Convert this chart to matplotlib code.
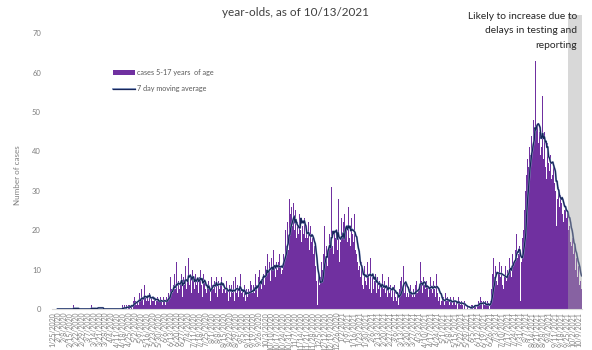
import numpy as np
import pandas as pd
import matplotlib
matplotlib.use("Agg")
import matplotlib.pyplot as plt
import matplotlib.patheffects as pe

# Daily confirmed cases among 5-17 year-olds, starting 1/25/2020 (one row per week)
start_date = "2020-01-25"
daily_cases = [
    0, 0, 0, 0, 0, 0, 0,
    0, 0, 0, 0, 0, 0, 0,
    0, 0, 0, 0, 0, 0, 0,
    0, 0, 0, 0, 1, 0, 0,
    0, 0, 0, 0, 0, 0, 0,
    0, 0, 0, 0, 0, 0, 0,
    0, 0, 0, 0, 1, 0, 0,
    0, 0, 0, 0, 0, 2, 0,
    0, 0, 0, 0, 0, 0, 0,
    0, 0, 0, 0, 0, 0, 0,
    0, 0, 0, 0, 0, 0, 0,
    0, 0, 0, 0, 0, 0, 1,
    0, 1, 0, 0, 1, 0, 1,
    1, 0, 2, 1, 0, 2, 3,
    2, 1, 3, 2, 1, 4, 2,
    5, 2, 3, 1, 6, 3, 2,
    3, 5, 2, 4, 1, 3, 2,
    4, 2, 3, 1, 2, 3, 2,
    1, 2, 3, 2, 1, 3, 2,
    2, 1, 3, 2, 4, 5, 3,
    8, 5, 4, 6, 9, 3, 5,
    12, 4, 7, 5, 8, 6, 9,
    3, 8, 6, 11, 9, 5, 7,
    13, 6, 9, 8, 4, 10, 7,
    5, 9, 6, 11, 7, 4, 8,
    10, 6, 8, 3, 9, 7, 5,
    4, 6, 3, 7, 5, 2, 8,
    6, 9, 5, 7, 4, 8, 3,
    7, 10, 5, 6, 8, 4, 5,
    3, 6, 4, 7, 5, 2, 6,
    5, 3, 6, 4, 7, 2, 5,
    8, 4, 6, 3, 5, 9, 2,
    4, 5, 3, 6, 2, 4, 5,
    3, 5, 4, 7, 2, 6, 4,
    6, 4, 9, 5, 7, 3, 8,
    10, 7, 5, 12, 8, 9, 6,
    11, 9, 14, 8, 10, 12, 7,
    13, 10, 9, 15, 11, 8, 12,
    10, 12, 8, 14, 11, 9, 10,
    14, 18, 12, 20, 16, 22, 15,
    28, 19, 24, 26, 21, 27, 20,
    16, 25, 18, 22, 19, 24, 20,
    33, 17, 21, 19, 23, 18, 16,
    20, 18, 22, 15, 21, 17, 19,
    18, 14, 16, 11, 7, 5, 1,
    9, 6, 8, 12, 7, 10, 14,
    21, 13, 16, 11, 18, 15, 19,
    17, 31, 16, 22, 14, 19, 18,
    20, 15, 28, 14, 12, 17, 23,
    19, 22, 18, 24, 20, 21, 17,
    26, 18, 21, 16, 23, 19, 17,
    24, 16, 15, 14, 12, 10, 11,
    8, 9, 12, 6, 5, 11, 7,
    10, 6, 12, 9, 5, 13, 4,
    11, 8, 5, 7, 9, 4, 6,
    8, 5, 7, 3, 6, 9, 4,
    5, 7, 4, 6, 3, 5, 8,
    4, 6, 3, 5, 7, 2, 6,
    3, 2, 4, 1, 3, 5, 7,
    8, 5, 11, 6, 4, 7, 3,
    4, 3, 5, 2, 6, 4, 3,
    5, 3, 4, 6, 7, 4, 5,
    6, 12, 5, 7, 4, 8, 6,
    5, 4, 7, 6, 3, 5, 8,
    5, 6, 4, 7, 5, 3, 9,
    6, 4, 2, 3, 1, 2, 3,
    2, 3, 1, 4, 2, 3, 1,
    2, 1, 3, 2, 1, 3, 2,
    2, 1, 2, 0, 3, 1, 2,
    1, 2, 1, 0, 2, 1, 0,
    0, 1, 0, 0, 1, 0, 1,
    1, 0, 1, 2, 1, 0, 1,
    2, 1, 3, 1, 2, 0, 2,
    1, 2, 0, 1, 2, 1, 0,
    2, 5, 7, 9, 13, 8, 11,
    7, 10, 6, 9, 12, 8, 11,
    6, 9, 5, 8, 11, 7, 10,
    12, 9, 13, 10, 8, 14, 11,
    17, 12, 15, 19, 13, 14, 16,
    16, 2, 12, 18, 20, 25, 27,
    30, 34, 38, 36, 41, 44, 39,
    44, 41, 48, 43, 63, 40, 46,
    47, 42, 45, 39, 44, 41, 54,
    38, 45, 36, 40, 33, 42, 37,
    35, 39, 33, 41, 34, 36, 32,
    30, 21, 33, 28, 31, 26, 29,
    27, 24, 29, 22, 25, 26, 23,
    25, 22, 20, 21, 17, 16, 18,
    14, 12, 17, 10, 13, 8, 11,
    9, 6, 7, 5,
]
# Most recent days, still subject to reporting delay
delay_start_date = "2021-09-26"

series_label = "cases 5-17 years  of age"
ma_label = "7 day moving average"
title_text = "year-olds, as of 10/13/2021"
note_text = "Likely to increase due to\ndelays in testing and\nreporting"
y_ticks = [0, 10, 20, 30, 40, 50, 60, 70]

plt.rcParams["font.family"] = ["Lato", "DejaVu Sans"]

dates = pd.date_range(start_date, periods=len(daily_cases), freq="D")
x = np.arange(len(daily_cases))
moving_avg = pd.Series(daily_cases, dtype=float).rolling(7).mean()
delay_idx = int((pd.Timestamp(delay_start_date) - dates[0]).days)

fig = plt.figure(figsize=(5.92, 3.5), dpi=100)
ax = fig.add_axes([52 / 592, 1 - 309 / 350, 530 / 592, 294 / 350])

bars = ax.bar(x, daily_cases, width=1.0, color="#7030A0", linewidth=0,
              label=series_label, zorder=2)
line, = ax.plot(x, moving_avg, color="#17265A", lw=0.9, label=ma_label, zorder=3,
                path_effects=[pe.Stroke(linewidth=1.4, foreground="#8FA2C8"),
                              pe.Normal()])

ax.axvspan(delay_idx - 0.5, len(daily_cases) - 0.5, color="#A6A6A6",
           alpha=0.43, lw=0, zorder=4)

ax.set_xlim(-0.5, len(daily_cases) - 0.5)
ax.set_ylim(0, 74.6)
ax.set_yticks(y_ticks)
ax.set_yticklabels([str(v) for v in y_ticks])

tick_pos = x[::7]
ax.set_xticks(tick_pos)
ax.set_xticklabels([f"{d.month}/{d.day}/{d.year}" for d in dates[::7]])
ax.tick_params(axis="x", labelrotation=90, labelsize=5.0, colors="#808080",
               length=0, pad=2)
ax.tick_params(axis="y", labelsize=5.5, colors="#7F7F7F", length=0, pad=8)

for side in ("top", "right", "left"):
    ax.spines[side].set_visible(False)
ax.spines["bottom"].set_color("#D9D9D9")
ax.spines["bottom"].set_linewidth(0.8)
ax.set_facecolor("none")

fig.text(0.5, 1 - 13 / 350, title_text, ha="center", va="center",
         fontsize=8.5, color="#404040")
fig.text(577 / 592, 1 - 12 / 350, note_text, ha="right", va="top",
         fontsize=7.4, color="#262626", linespacing=1.75, zorder=10)
fig.text(18 / 592, 1 - 175 / 350, "Number of cases", rotation=90,
         ha="center", va="center", fontsize=5.8, color="#7F7F7F")

fig.legend(handles=[bars, line], labels=[series_label, ma_label],
           loc="upper left", bbox_to_anchor=(110 / 592, 1 - 66 / 350),
           frameon=False, fontsize=5.2, labelcolor="#595959",
           handlelength=3.0, handleheight=0.7, labelspacing=1.3,
           handletextpad=0.3, borderaxespad=0)

fig.savefig("out.png", dpi=100)
